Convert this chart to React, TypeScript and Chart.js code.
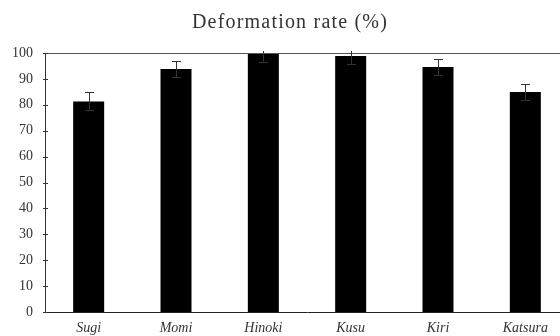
import React, { useEffect, useRef } from "react";
import { Chart, registerables } from "chart.js";

Chart.register(...registerables);

const TITLE = "Deformation rate (%)";
const species = ["Sugi", "Momi", "Hinoki", "Kusu", "Kiri", "Katsura"];
const rates = [81.3, 93.8, 100, 98.8, 94.6, 84.9];
const errors = [3.5, 3.0, 3.4, 3.1, 3.1, 3.0];
const yTicks = [0, 10, 20, 30, 40, 50, 60, 70, 80, 90, 100];

const SERIF = "'Liberation Serif', 'Times New Roman', serif";

// Title, frame line, inward ticks and error bars drawn on the canvas
const decorations = {
  id: "decorations",
  afterDatasetsDraw(chart: any) {
    const { ctx, chartArea, scales } = chart;
    const y = scales.y;
    const meta = chart.getDatasetMeta(0);
    ctx.save();

    // top frame line
    ctx.strokeStyle = "#555";
    ctx.lineWidth = 1;
    ctx.beginPath();
    ctx.moveTo(chartArea.left, chartArea.top + 0.5);
    ctx.lineTo(chart.width, chartArea.top + 0.5);
    ctx.stroke();

    // y ticks crossing the axis
    ctx.strokeStyle = "#333";
    yTicks.forEach((v) => {
      const py = Math.round(y.getPixelForValue(v)) + 0.5;
      ctx.beginPath();
      ctx.moveTo(chartArea.left - 2, py);
      ctx.lineTo(chartArea.left + 3, py);
      ctx.stroke();
    });

    // error bars
    ctx.beginPath();
    ctx.rect(0, chartArea.top - 2, chart.width, chartArea.bottom);
    ctx.clip();
    ctx.strokeStyle = "#333";
    ctx.lineWidth = 1;
    meta.data.forEach((bar: any, i: number) => {
      const x = Math.round(bar.x) + 0.5;
      const top = y.getPixelForValue(rates[i] + errors[i]);
      const bot = y.getPixelForValue(rates[i] - errors[i]);
      ctx.beginPath();
      ctx.moveTo(x, top);
      ctx.lineTo(x, bot);
      ctx.moveTo(x - 4.5, Math.round(top) + 0.5);
      ctx.lineTo(x + 4.5, Math.round(top) + 0.5);
      ctx.moveTo(x - 4.5, Math.round(bot) + 0.5);
      ctx.lineTo(x + 4.5, Math.round(bot) + 0.5);
      ctx.stroke();
    });
    ctx.restore();

    // title
    ctx.save();
    ctx.fillStyle = "#333";
    ctx.font = `20px ${SERIF}`;
    (ctx as any).letterSpacing = "1.2px";
    ctx.textAlign = "center";
    ctx.textBaseline = "alphabetic";
    ctx.fillText(TITLE, 290, 28);
    ctx.restore();
  },
};

export default function App() {
  const canvasRef = useRef<HTMLCanvasElement | null>(null);

  useEffect(() => {
    if (!canvasRef.current) return;
    const chart = new Chart(canvasRef.current, {
      type: "bar",
      data: {
        labels: species,
        datasets: [
          {
            data: rates,
            backgroundColor: "#000",
            borderWidth: 0,
            barPercentage: 0.355,
            categoryPercentage: 1,
          },
        ],
      },
      options: {
        responsive: false,
        animation: false,
        devicePixelRatio: 1,
        layout: { padding: { top: 53, left: 0, right: 0, bottom: 0 } },
        plugins: {
          legend: { display: false },
          title: { display: false },
          tooltip: { enabled: false },
        },
        scales: {
          x: {
            grid: { display: false, drawTicks: false },
            border: { display: true, color: "#222", width: 1 },
            ticks: {
              color: "#333",
              padding: 8,
              font: { family: SERIF, size: 14, style: "italic" },
            },
            afterFit(scale: any) {
              scale.height = 24;
            },
          },
          y: {
            min: 0,
            max: 100,
            afterBuildTicks(scale: any) {
              scale.ticks = yTicks.map((v) => ({ value: v }));
            },
            grid: { display: false, drawTicks: false },
            border: { display: true, color: "#333", width: 1 },
            ticks: {
              color: "#333",
              padding: 12,
              font: { family: SERIF, size: 14 },
            },
            afterFit(scale: any) {
              scale.width = 45;
            },
          },
        },
      },
      plugins: [decorations],
    });
    return () => chart.destroy();
  }, []);

  return (
    <div
      style={{
        position: "fixed",
        left: 0,
        top: 0,
        width: 560,
        height: 336,
        overflow: "hidden",
        background: "#fff",
      }}
    >
      <canvas ref={canvasRef} width={569} height={336} style={{ display: "block" }} />
    </div>
  );
}
